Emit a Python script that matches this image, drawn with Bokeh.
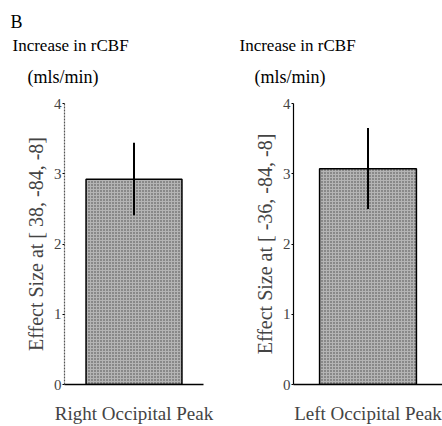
from bokeh.plotting import figure
from bokeh.layouts import row
from bokeh.models import Range1d, FactorRange, Title, ColumnDataSource
from bokeh.embed import file_html
from bokeh.resources import INLINE

# ---- data ----
regions = ["Right Occipital Peak", "Left Occipital Peak"]
effect_size = [2.92, 3.07]
error_upper = [3.44, 3.65]
error_lower = [2.41, 2.50]
y_labels = ["Effect Size at [ 38, -84, -8]", "Effect Size at [ -36, -84, -8]"]
y_ticks = [0, 1, 2, 3, 4]
panel_letter = "B"
unit_title = ["Increase in rCBF", "(mls/min)"]

FONT = "Liberation Serif"
Y_MAX = 4

def make_panel(i, border_left, border_right, border_bottom, bar_width, axis_dash):
    src = ColumnDataSource(dict(region=[regions[i]], value=[effect_size[i]],
                                lo=[error_lower[i]], hi=[error_upper[i]]))
    p = figure(width=221, height=426,
               x_range=FactorRange(factors=[regions[i]], range_padding=0),
               y_range=Range1d(0, Y_MAX),
               output_backend="svg", toolbar_location=None,
               min_border_left=border_left, min_border_right=border_right,
               min_border_top=103, min_border_bottom=border_bottom)
    p.outline_line_color = None
    p.grid.visible = False
    p.background_fill_color = None
    p.border_fill_color = None

    p.vbar(x="region", top="value", bottom=0, width=bar_width, source=src,
           fill_color="#b4b4b4", line_color="black", line_width=1.5,
           hatch_pattern="dot", hatch_color="#2a2a2a", hatch_scale=3, hatch_weight=1.3,
           hatch_alpha=0.8)
    p.segment(x0="region", x1="region", y0="lo", y1="hi", source=src,
              line_color="black", line_width=2)

    ya = p.yaxis[0]
    ya.ticker = y_ticks
    ya.axis_label = y_labels[i]
    ya.axis_label_text_font = FONT
    ya.axis_label_text_font_style = "normal"
    ya.axis_label_text_font_size = "20px"
    ya.axis_label_standoff = 4
    ya.major_label_text_font = FONT
    ya.major_label_text_font_size = "15px"
    ya.major_label_standoff = 1
    ya.major_tick_in = 0
    ya.major_tick_out = 2
    ya.minor_tick_line_color = None
    ya.axis_line_color = "#555555" if axis_dash else "black"
    if axis_dash:
        ya.axis_line_dash = "2 1"
    ya.axis_line_width = 1.2

    xa = p.xaxis[0]
    xa.major_tick_line_color = None
    xa.major_label_text_font = FONT
    xa.major_label_text_font_size = "19px"
    xa.major_label_standoff = 12
    xa.axis_line_color = "black"
    xa.axis_line_width = 1.5
    return p

p1 = make_panel(0, 64, 18, 40, 0.69, True)
p2 = make_panel(1, 72, 0, 38, 0.65, False)

def add_title(p, txt, offset, size, standoff):
    p.add_layout(Title(text=txt, align="left", offset=offset, standoff=standoff,
                       text_font=FONT, text_font_size=size, text_font_style="normal",
                       text_color="black"), "above")

# titles are stacked outward from the frame: first added sits nearest the plot
add_title(p1, unit_title[1], 27 - 64, "18px", 33)
add_title(p1, unit_title[0], 12 - 64, "17px", -12)
add_title(p1, panel_letter, 10 - 64, "18px", 16)
add_title(p2, unit_title[1], 33 - 72, "18px", 33)
add_title(p2, unit_title[0], 18 - 72, "17px", -12)

layout = row(p1, p2, spacing=0)
open("out.html", "w").write(file_html(layout, INLINE))
